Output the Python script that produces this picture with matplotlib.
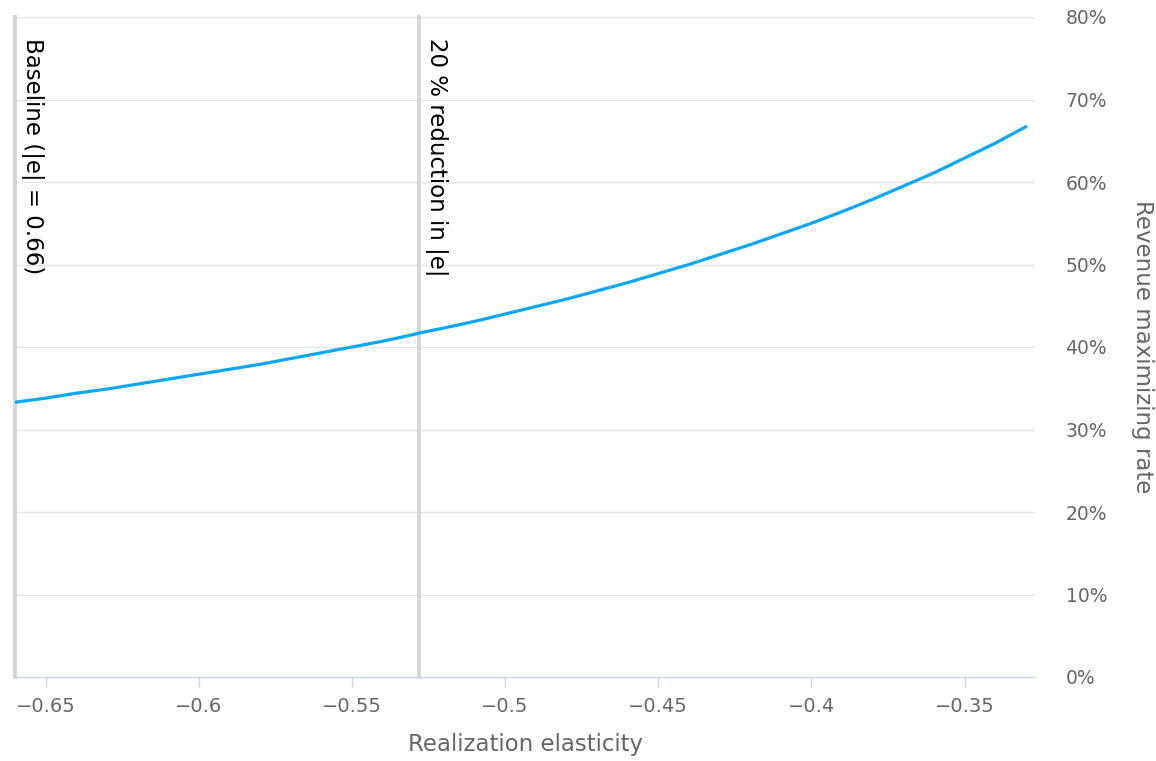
import matplotlib
matplotlib.use("Agg")
import matplotlib.pyplot as plt
from matplotlib.ticker import FuncFormatter

plt.rcParams['font.family'] = ['DejaVu Sans']

# values
elasticity = [-0.66, -0.65, -0.64, -0.63, -0.62, -0.61, -0.60, -0.59, -0.58,
              -0.57, -0.56, -0.55, -0.54, -0.53, -0.528, -0.52, -0.51, -0.50,
              -0.49, -0.48, -0.47, -0.46, -0.45, -0.44, -0.43, -0.42, -0.41,
              -0.40, -0.39, -0.38, -0.37, -0.36, -0.35, -0.34, -0.335, -0.33]
rate = [33.3, 33.8, 34.4, 34.9, 35.5, 36.1, 36.7, 37.3, 37.9,
        38.6, 39.3, 40.0, 40.7, 41.5, 41.7, 42.3, 43.1, 44.0,
        44.9, 45.8, 46.8, 47.8, 48.9, 50.0, 51.2, 52.4, 53.7,
        55.0, 56.4, 57.9, 59.5, 61.1, 62.9, 64.7, 65.7, 66.7]

marker_x = [-0.66, -0.528]
marker_labels = ['Baseline (|e| = 0.66)', '20 % reduction in |e|']

x_ticks = [-0.65, -0.6, -0.55, -0.5, -0.45, -0.4, -0.35]
y_ticks = [0, 10, 20, 30, 40, 50, 60, 70, 80]

W, H = 1156, 761
fig = plt.figure(figsize=(W / 100, H / 100), dpi=100)
ax = fig.add_axes([15 / W, (H - 677) / H, (1035 - 15) / W, (677 - 17) / H])

ax.set_xlim(-0.66, -0.327)
ax.set_ylim(0, 80)

for y in y_ticks[1:]:
    ax.axhline(y, color='#e6e6e6', lw=1, zorder=0)

for xv, lab in zip(marker_x, marker_labels):
    ax.axvline(xv, color='#d6d6d6', lw=2.8, zorder=1, clip_on=False)
    ax.annotate(lab, xy=(xv, 1), xycoords=ax.get_xaxis_transform(),
                xytext=(4, -15), textcoords='offset points',
                rotation=-90, rotation_mode='anchor', ha='left', va='bottom',
                fontsize=16.5, color='black')

ax.plot(elasticity, rate, color='#0ba7f7', lw=2.3, zorder=3, solid_capstyle='round')

for s in ['left', 'top', 'right']:
    ax.spines[s].set_visible(False)
ax.spines['bottom'].set_color('#ccd6eb')
ax.spines['bottom'].set_linewidth(1)

ax.set_xticks(x_ticks)
ax.xaxis.set_major_formatter(FuncFormatter(lambda v, p: ('\u2212%g' % abs(v))))
ax.tick_params(axis='x', colors='#ccd6eb', length=7.5, width=1, pad=7,
               labelcolor='#666666', labelsize=14)

ax.yaxis.tick_right()
ax.set_yticks(y_ticks)
ax.yaxis.set_major_formatter(FuncFormatter(lambda v, p: '%d%%' % v))
ax.tick_params(axis='y', length=0, pad=22, labelcolor='#666666', labelsize=13.5)
for t in ax.get_yticklabels():
    t.set_horizontalalignment('left')

ax.set_xlabel('Realization elasticity', fontsize=16.5, color='#666666', labelpad=12)
ax.yaxis.set_label_position('right')
ax.set_ylabel('Revenue maximizing rate', fontsize=16.5, color='#666666',
              rotation=-90, labelpad=17, va='bottom')

fig.savefig('out.png', dpi=100, facecolor='white')
